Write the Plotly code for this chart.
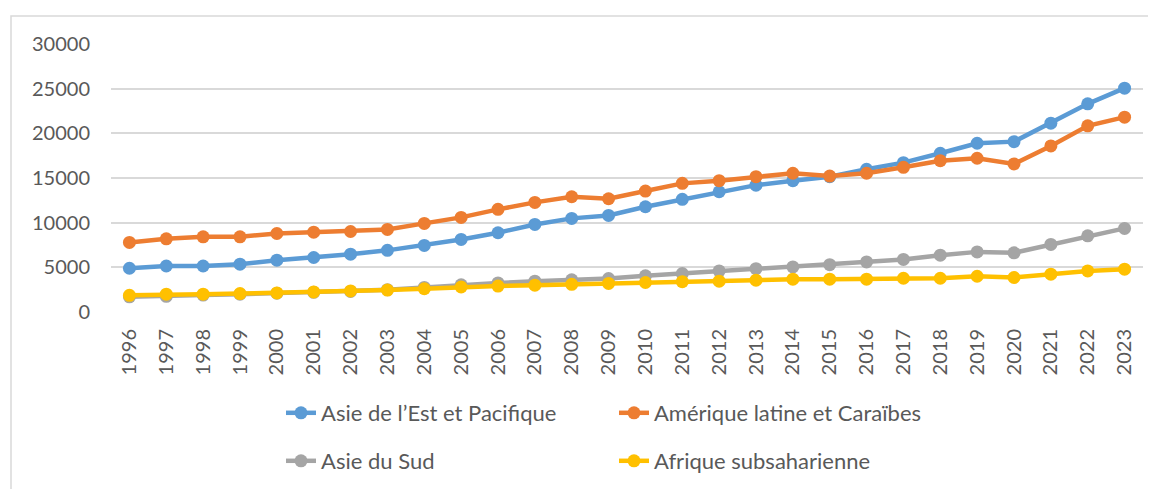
import plotly.graph_objects as go

YEARS = [str(y) for y in range(1996, 2024)]

EAST_ASIA = [4900, 5150, 5150, 5350, 5800, 6100, 6470, 6900, 7450, 8120, 8870, 9800,
             10480, 10810, 11780, 12610, 13460, 14200, 14700, 15150, 15970, 16720,
             17770, 18890, 19070, 21140, 23300, 25060]
LATAM = [7790, 8190, 8420, 8420, 8790, 8940, 9010, 9240, 9920, 10590, 11490, 12270,
         12900, 12680, 13540, 14400, 14700, 15150, 15530, 15220, 15530, 16200,
         16940, 17210, 16570, 18590, 20840, 21810]
SOUTH_ASIA = [1700, 1750, 1900, 2000, 2100, 2200, 2300, 2500, 2750, 3050, 3250, 3450,
              3600, 3750, 4050, 4300, 4600, 4850, 5050, 5300, 5600, 5880,
              6360, 6730, 6620, 7560, 8530, 9360]
SSA = [1870, 1990, 1990, 2060, 2130, 2250, 2360, 2450, 2600, 2800, 2900, 3000,
       3100, 3200, 3300, 3400, 3450, 3560, 3670, 3670, 3670, 3780,
       3780, 4000, 3860, 4230, 4600, 4790]

SERIES = [
    ("Asie de l\u2019Est et Pacifique", EAST_ASIA, "#5B9BD5", "legend"),
    ("Am\u00e9rique latine et Cara\u00efbes", LATAM, "#ED7D31", "legend"),
    ("Asie du Sud", SOUTH_ASIA, "#A5A5A5", "legend2"),
    ("Afrique subsaharienne", SSA, "#FFC000", "legend2"),
]

TEXT = "#595959"
FONT = "Lato, sans-serif"

# page body has an 8px margin, so the figure is drawn 8px smaller
W, H = 1148, 481

fig = go.Figure()
for name, vals, color, leg in SERIES:
    fig.add_trace(go.Scatter(
        x=YEARS, y=vals, name=name, mode="lines+markers",
        line=dict(color=color, width=4.5),
        marker=dict(color=color, size=13),
        legend=leg,
    ))

# two legends stacked, positioned in container coords so they don't push margins
legend_common = dict(
    orientation="h", xanchor="left", yanchor="middle",
    xref="container", yref="container",
    font=dict(family=FONT, size=22, color=TEXT),
    entrywidth=288, bgcolor="rgba(0,0,0,0)",
)

fig.update_layout(
    width=W, height=H,
    margin=dict(l=103, r=13, t=36, b=177),
    paper_bgcolor="white", plot_bgcolor="white",
    font=dict(family=FONT, color=TEXT),
    showlegend=True,
    legend=dict(x=273 / W, y=1 - 405 / H, **legend_common),
    legend2=dict(x=273 / W, y=1 - 453 / H, **legend_common),
    xaxis=dict(
        type="category", range=[-0.5, 27.5], tickangle=-90, showgrid=False,
        showline=False, zeroline=False,
        tickfont=dict(family=FONT, size=20, color=TEXT),
        ticklabelstandoff=12,
    ),
    yaxis=dict(
        range=[0, 30000], dtick=5000, tickformat="d", showgrid=True,
        gridcolor="#D9D9D9", gridwidth=1.5, zeroline=False, showline=False,
        tickfont=dict(family=FONT, size=20, color=TEXT),
        ticklabelstandoff=20,
    ),
    shapes=[dict(
        type="rect", xref="paper", yref="paper",
        x0=-100 / 1032, x1=1.2, y0=-1.0, y1=1 + 28 / 268,
        line=dict(color="#D9D9D9", width=1.5), fillcolor="rgba(0,0,0,0)",
        layer="below",
    )],
)

fig.write_html("out.html")
